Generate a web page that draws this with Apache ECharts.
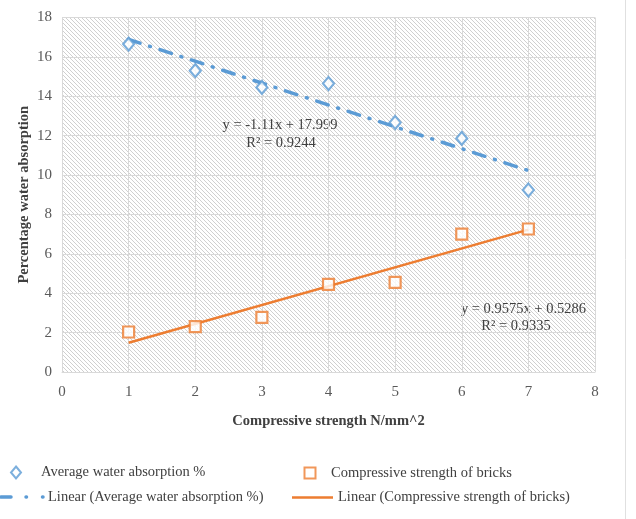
<!DOCTYPE html>
<html><head><meta charset="utf-8">
<script src="https://cdn.jsdelivr.net/npm/echarts@6/dist/echarts.min.js"></script>
<style>html,body{margin:0;padding:0;background:#fff}#c{width:636px;height:519px}</style>
</head><body><div id="c"></div>
<script>
const xValues = [1, 2, 3, 4, 5, 6, 7];
const waterAbsorption = [16.65, 15.3, 14.45, 14.65, 12.67, 11.86, 9.24];
const compressiveStrength = [2.03, 2.3, 2.77, 4.45, 4.55, 7.0, 7.26];
const waterTrendX = [1, 7];
const waterTrendY = [16.889, 10.229];
const strengthTrendX = [1, 7];
const strengthTrendY = [1.486, 7.231];
const xTicks = [0, 1, 2, 3, 4, 5, 6, 7, 8];
const yTicks = [0, 2, 4, 6, 8, 10, 12, 14, 16, 18];

const pc = document.createElement('canvas');
pc.width = 4; pc.height = 4;
const g = pc.getContext('2d');
g.fillStyle = '#ffffff'; g.fillRect(0,0,4,4);
g.strokeStyle = '#c4c4c4'; g.lineWidth = 0.8;
g.beginPath();
g.moveTo(-1,-1); g.lineTo(5,5);
g.moveTo(-1,3); g.lineTo(1,5);
g.moveTo(3,-1); g.lineTo(5,1);
g.stroke();

const BLUE = '#5B9BD5', ORANGE = '#ED7D31', FONT = 'Liberation Serif';
const chart = echarts.init(document.getElementById('c'), null, {renderer: 'canvas'});
const legendText = {fontFamily: FONT, fontSize: 14.5, color: '#404040'};
chart.setOption({
  animation: false,
  grid: {left: 62, top: 17.5, right: 41, bottom: 147, show: true,
    backgroundColor: {image: pc, repeat: 'repeat'}, borderWidth: 0},
  xAxis: {type: 'value', min: 0, max: 8, interval: 1,
    name: 'Compressive strength N/mm^2', nameLocation: 'middle', nameGap: 42,
    nameTextStyle: {fontFamily: FONT, fontSize: 14.5, fontWeight: 'bold', color: '#404040'},
    axisLine: {show: true, lineStyle: {color: '#d9d9d9'}}, axisTick: {show: false},
    axisLabel: {fontFamily: FONT, fontSize: 15, color: '#595959', margin: 13,
      formatter: v => xTicks.includes(v) ? String(v) : ''},
    splitLine: {show: true, lineStyle: {color: '#d9d9d9', width: 1}}},
  yAxis: {type: 'value', min: 0, max: 18, interval: 2,
    name: 'Percentage water absorption', nameLocation: 'middle', nameGap: 30, nameMoveOverlap: false,
    nameTextStyle: {fontFamily: FONT, fontSize: 14.5, fontWeight: 'bold', color: '#404040'},
    axisLine: {show: false}, axisTick: {show: false},
    axisLabel: {fontFamily: FONT, fontSize: 15, color: '#595959', margin: 10,
      formatter: v => yTicks.includes(v) ? String(v) : ''},
    splitLine: {show: true, lineStyle: {color: '#d9d9d9', width: 1}}},
  legend: [
    {left: 10, top: 465, padding: 0, itemWidth: 10, itemHeight: 12,
      textStyle: Object.assign({padding: [0, 0, 0, 15]}, legendText),
      data: [{name: 'Average water absorption %'}]},
    {left: 303.5, top: 465.5, padding: 0, itemWidth: 11, itemHeight: 11,
      textStyle: Object.assign({padding: [0, 0, 0, 10.5]}, legendText),
      data: [{name: 'Compressive strength of bricks'}]},
    {left: 0, top: 490, padding: 0, itemWidth: 38, itemHeight: 14,
      textStyle: Object.assign({padding: [0, 0, 0, 5]}, legendText),
      data: [{name: 'Linear (Average water absorption %)', icon: 'rect',
        itemStyle: {color: 'rgba(0,0,0,0)', borderWidth: 0, opacity: 0}}]},
    {left: 292, top: 490, padding: 0, itemWidth: 41, itemHeight: 2.5, textStyle: legendText,
      data: [{name: 'Linear (Compressive strength of bricks)', icon: 'rect',
        itemStyle: {color: ORANGE, borderWidth: 0}}]}
  ],
  series: [
    {name: 'Linear (Average water absorption %)', type: 'line', symbol: 'none',
      data: waterTrendX.map((x, i) => [x, waterTrendY[i]]),
      lineStyle: {color: BLUE, width: 3.5, type: [12, 10, 1, 10], cap: 'round'},
      itemStyle: {color: BLUE}, z: 3},
    {name: 'Linear (Compressive strength of bricks)', type: 'line', symbol: 'none',
      data: strengthTrendX.map((x, i) => [x, strengthTrendY[i]]),
      lineStyle: {color: ORANGE, width: 2.5}, itemStyle: {color: ORANGE}, z: 3},
    {name: 'Average water absorption %', type: 'scatter', symbol: 'diamond', symbolSize: [11, 13],
      data: xValues.map((x, i) => [x, waterAbsorption[i]]),
      itemStyle: {color: '#ffffff', borderColor: BLUE, borderWidth: 2.2}, z: 4},
    {name: 'Compressive strength of bricks', type: 'scatter', symbol: 'rect', symbolSize: [11, 11],
      data: xValues.map((x, i) => [x, compressiveStrength[i]]),
      itemStyle: {color: '#ffffff', borderColor: ORANGE, borderWidth: 2.2}, z: 4}
  ],
  graphic: [
    {type: 'text', x: 280, y: 125, style: {text: 'y = -1.11x + 17.999', font: '14.5px "Liberation Serif"', fill: '#404040', align: 'center', verticalAlign: 'middle'}},
    {type: 'text', x: 281, y: 143, style: {text: 'R² = 0.9244', font: '14.5px "Liberation Serif"', fill: '#404040', align: 'center', verticalAlign: 'middle'}},
    {type: 'text', x: 586, y: 309, style: {text: 'y = 0.9575x + 0.5286', font: '14.5px "Liberation Serif"', fill: '#404040', align: 'right', verticalAlign: 'middle'}},
    {type: 'text', x: 516, y: 326, style: {text: 'R² = 0.9335', font: '14.5px "Liberation Serif"', fill: '#404040', align: 'center', verticalAlign: 'middle'}},
    {type: 'line', shape: {x1: 625.5, y1: 0, x2: 625.5, y2: 519}, style: {stroke: '#e0e0e0', lineWidth: 1}},
    {type: 'line', shape: {x1: 1, y1: 497, x2: 11, y2: 497}, style: {stroke: BLUE, lineWidth: 3.5, lineCap: 'round'}},
    {type: 'line', shape: {x1: 26, y1: 497, x2: 26.5, y2: 497}, style: {stroke: BLUE, lineWidth: 3.5, lineCap: 'round'}},
    {type: 'line', shape: {x1: 42.5, y1: 497, x2: 43, y2: 497}, style: {stroke: BLUE, lineWidth: 3.5, lineCap: 'round'}}
  ]
});
</script></body></html>
